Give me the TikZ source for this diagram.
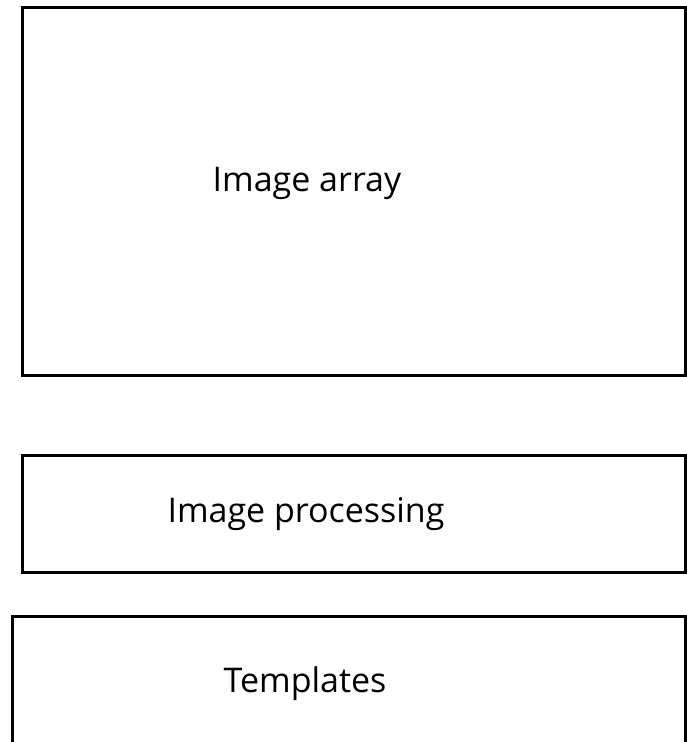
\documentclass[tikz,border=0pt]{standalone}
\usepackage{fontspec}
\setmainfont{Open Sans}
\usetikzlibrary{positioning}

\begin{document}
\begin{tikzpicture}[x=1pt, y=-1pt]
    \tikzstyle{bnode} = [draw=black, line width = 3pt, rectangle, inner sep = 0pt]
    \tikzstyle{tnode} = [font=\fontsize{34}{40}\selectfont, inner sep = 0pt, align=center]
    \useasboundingbox (0,0) rectangle (687,742);
    \clip (0,0) rectangle (687,742);

    \node[bnode, minimum width = 662.5pt, minimum height = 367.5pt] (array) at (353.75, 191.25) {};
    \node[bnode, minimum width = 662.5pt, minimum height = 117pt] (proc) at (353.75, 513.5) {};
    \node[bnode, minimum width = 672.5pt, minimum height = 163.5pt] (tmpl) at (348.75, 698.25) {};

    % labels
    \node[tnode] (tarray) at (307, 183) {Image array};
    \node[tnode] (tproc) at (306, 514) {Image processing};
    \node[tnode] (ttmpl) at (305, 684) {Templates};
\end{tikzpicture}
\end{document}
